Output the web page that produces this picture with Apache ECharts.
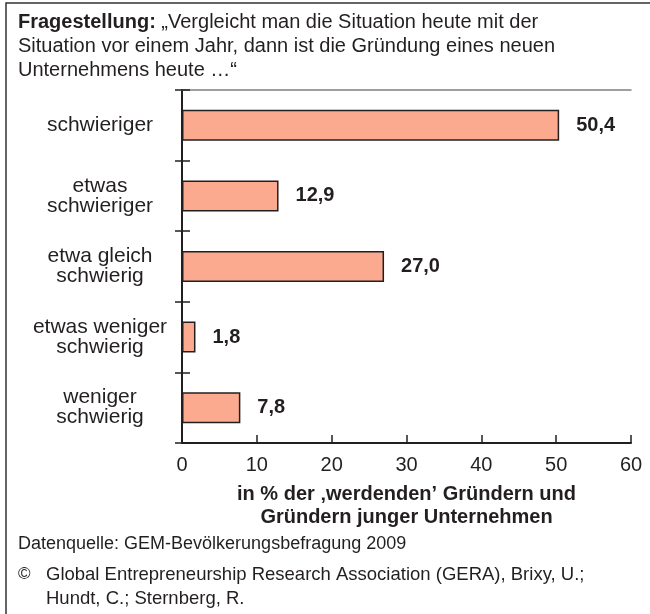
<!DOCTYPE html>
<html>
<head>
<meta charset="utf-8">
<script src="https://cdn.jsdelivr.net/npm/echarts@6/dist/echarts.min.js"></script>
<style>
  html, body { margin: 0; padding: 0; background: #fff; }
  #chart { width: 650px; height: 614px; }
</style>
</head>
<body>
<div id="chart"></div>
<script>
// Antwortkategorien (von oben nach unten)
const categories = [
    'schwieriger',
    'etwas\nschwieriger',
    'etwa gleich\nschwierig',
    'etwas weniger\nschwierig',
    'weniger\nschwierig'
];
// Anteile in %
const values = [50.4, 12.9, 27.0, 1.8, 7.8];
const xTicks = [0, 10, 20, 30, 40, 50, 60];

const font = '"Liberation Sans", Arial, sans-serif';
const ink = '#231F20';

const chart = echarts.init(document.getElementById('chart'));

const option = {
    backgroundColor: '#fff',
    animation: false,
    textStyle: { fontFamily: font, color: ink },
    title: {
        left: 18,
        top: 10,
        padding: 0,
        text: '{b|Fragestellung:} {n|„Vergleicht man die Situation heute mit der}\n' +
              '{n|Situation vor einem Jahr, dann ist die Gründung eines neuen}\n' +
              '{n|Unternehmens heute …“}',
        textStyle: {
            fontWeight: 'normal',
            fontSize: 20,
            lineHeight: 24,
            rich: {
                b: { fontFamily: font, fontSize: 20, fontWeight: 'bold', color: ink, lineHeight: 24 },
                n: { fontFamily: font, fontSize: 20, fontWeight: 'normal', color: ink, lineHeight: 24 }
            }
        }
    },
    grid: { left: 182, right: 19, top: 90, bottom: 171 },
    xAxis: [{
        type: 'value',
        min: xTicks[0],
        max: xTicks[xTicks.length - 1],
        interval: 10,
        position: 'bottom',
        splitLine: { show: false },
        axisLine: { show: true, lineStyle: { color: ink, width: 2 } },
        axisTick: { show: true, inside: true, length: 8, lineStyle: { color: ink, width: 1.5 } },
        axisLabel: { fontFamily: font, fontSize: 20, color: ink, margin: 12 },
        name: 'in % der ‚werdenden’ Gründern und\nGründern junger Unternehmen',
        nameLocation: 'middle',
        nameGap: 40,
        nameTextStyle: { fontFamily: font, fontSize: 20, fontWeight: 'bold', color: ink, lineHeight: 23, verticalAlign: 'top' }
    }, {
        type: 'value',
        min: 0,
        max: 60,
        position: 'top',
        splitLine: { show: false },
        axisLine: { show: true, lineStyle: { color: '#808080', width: 1.5 } },
        axisTick: { show: false },
        axisLabel: { show: false }
    }],
    yAxis: [{
        type: 'category',
        data: categories,
        inverse: true,
        position: 'left',
        axisLine: { show: true, lineStyle: { color: ink, width: 2 } },
        axisTick: { show: true, length: 7, lineStyle: { color: ink, width: 1.5 } },
        axisLabel: {
            fontFamily: font, fontSize: 21, color: ink,
            align: 'center', margin: 82, lineHeight: 20
        }
    }, {
        type: 'category',
        data: categories,
        inverse: true,
        position: 'left',
        axisLine: { show: false },
        axisTick: { show: true, inside: true, length: 8, lineStyle: { color: ink, width: 1.5 } },
        axisLabel: { show: false }
    }],
    series: [{
        type: 'bar',
        xAxisIndex: 0,
        yAxisIndex: 0,
        data: values,
        barWidth: 31,
        itemStyle: { color: '#FBAA8F', borderColor: ink, borderWidth: 1.5 },
        label: {
            show: true,
            position: 'right',
            distance: 17,
            fontFamily: font,
            fontSize: 20,
            fontWeight: 'bold',
            color: ink,
            formatter: p => p.value.toFixed(1).replace('.', ',')
        }
    }],
    graphic: [
        {
            type: 'rect',
            shape: { x: 6, y: 3, width: 700, height: 700 },
            style: { fill: 'none', stroke: '#333', lineWidth: 1.5 },
            silent: true
        },
        {
            type: 'text', left: 18, top: 535,
            style: { text: 'Datenquelle: GEM-Bevölkerungsbefragung 2009', font: '18px ' + font, fill: ink }
        },
        {
            type: 'text', left: 18, top: 566,
            style: { text: '©', font: '17px ' + font, fill: ink }
        },
        {
            type: 'text', left: 46, top: 563,
            style: {
                text: 'Global Entrepreneurship Research Association (GERA), Brixy, U.;\nHundt, C.; Sternberg, R.',
                font: '18.5px ' + font, fill: ink, lineHeight: 24
            }
        }
    ]
};

chart.setOption(option);
</script>
</body>
</html>
